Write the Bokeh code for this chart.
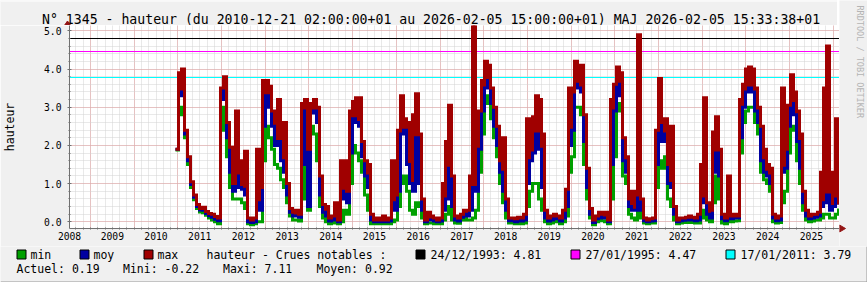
import numpy as np
from bokeh.plotting import figure
from bokeh.layouts import column, row
from bokeh.models import (FixedTicker, CustomJSTickFormatter, PrintfTickFormatter, Range1d)
from bokeh.core.properties import value
from bokeh.embed import file_html
from bokeh.resources import INLINE

# ---------------- data ----------------
start_year = 2010.9455      # first sample (decimal year)
step_years = 0.068665       # sampling interval (~25 days)

h_max = [1.9, 3.9, 4.0, 2.4, 1.7, 1.05, 0.7, 0.45, 0.35, 0.38, 0.27, 0.22, 0.2, 0.14, 0.1,
         3.5, 3.8, 2.6, 1.95, 1.0, 2.9, 1.6, 1.5, 1.85, 0.1, 0.05, 0.1, 1.9, 0.9, 3.7,
         3.7, 3.55, 2.9, 2.6, 3.2, 2.4, 2.6, 1.0, 0.35, 0.25, 0.3, 0.2, 3.1, 3.2,
         1.9, 3.1, 3.2, 3.0, 1.2, 0.45, 0.4, 0.1, 0.15, 0.5, 0.05, 1.6, 1.6, 0.8,
         2.9, 3.15, 3.25, 3.25, 2.1, 1.6, 1.5, 0.2, 0.05, 0.1, 0.05, 0.15, 0.05, 0.1,
         1.6, 0.7, 2.4, 3.3, 2.7, 2.6, 2.5, 2.8, 3.35, 2.3, 0.6, 0.05, 0.25, 0.15, 0.1, 0.05,
         0.1, 1.0, 2.1, 3.05, 1.2, 0.15, 0.1, 0.2, 0.3, 0.3, 1.2, 7.1, 2.05, 2.9,
         3.7, 4.2, 4.1, 3.5, 3.0, 2.5, 1.6, 2.2, 0.6, 0.1, 0.1, 0.08, 0.12, 0.1, 0.2,
         2.7, 2.5, 2.75, 3.3, 3.2, 2.3, 0.3, 0.1, 0.15, 0.2, 0.15, 0.1, 0.3, 0.85, 3.5,
         3.4, 4.2, 4.0, 4.1, 2.8, 1.4, 0.35, 0.05, 0.15, 0.25, 0.2, 0.25, 0.05,
         3.2, 3.6, 4.05, 3.9, 2.2, 1.7, 0.6, 0.8, 0.7, 4.9, 0.6, 0.1, 0.05, 0.08, 0.1,
         2.4, 3.75, 2.6, 2.7, 1.5, 2.5, 0.4, 0.05, 0.1, 0.1, 0.12, 0.15, 0.12, 0.1, 0.2, 1.5,
         3.25, 0.5, 0.3, 2.35, 2.75, 1.9, 0.2, 0.1, 1.2, 0.15, 0.2, 0.15,
         3.2, 3.6, 4.0, 4.05, 4.0, 3.5, 3.0, 2.5, 1.9, 1.5, 1.4, 0.2, 0.1, 0.15,
         3.5, 1.9, 3.05, 3.85, 3.4, 2.9, 2.3, 0.8, 0.3, 0.15, 0.2, 0.2, 0.25,
         1.3, 3.5, 4.6, 1.2, 1.3, 2.7, 0.45]

h_moy = [1.9, 3.4, 3.3, 2.3, 1.6, 0.98, 0.64, 0.4, 0.31, 0.3, 0.22, 0.16, 0.12, 0.07, 0.03,
         3.2, 3.5, 2.2, 1.3, 0.8, 1.2, 0.9, 0.85, 0.7, 0.0, -0.02, 0.0, 0.5, 0.3, 2.5,
         3.3, 3.0, 2.5, 2.0, 2.1, 1.6, 1.3, 0.7, 0.25, 0.15, 0.15, 0.12, 1.5, 2.9,
         0.4, 2.85, 2.9, 2.6, 0.7, 0.25, 0.15, 0.02, 0.05, 0.15, 0.0, 0.6, 0.8, 0.5,
         1.8, 2.7, 2.6, 2.5, 1.7, 1.2, 0.9, 0.05, 0.0, 0.02, 0.0, 0.05, 0.0, 0.02,
         0.5, 0.3, 0.8, 2.3, 2.4, 1.5, 1.0, 0.8, 2.2, 1.0, 0.3, 0.0, 0.05, 0.05, 0.02, 0.0,
         0.02, 0.3, 0.6, 1.4, 0.4, 0.05, 0.02, 0.12, 0.2, 0.15, 0.3, 0.9, 0.8, 1.9,
         2.9, 3.5, 3.7, 3.1, 2.5, 2.0, 1.3, 0.8, 0.3, 0.03, 0.03, 0.0, 0.04, 0.02, 0.05,
         1.0, 1.6, 1.8, 2.3, 1.9, 0.9, 0.1, 0.02, 0.05, 0.1, 0.08, 0.02, 0.1, 0.4, 2.0,
         2.4, 3.6, 3.5, 3.4, 2.1, 0.9, 0.2, -0.02, 0.08, 0.15, 0.1, 0.1, 0.0,
         1.5, 2.9, 3.6, 3.3, 1.6, 1.3, 0.4, 0.3, 0.3, 1.6, 0.3, 0.03, 0.0, 0.02, 0.03,
         1.5, 2.6, 2.1, 2.3, 1.0, 0.9, 0.2, 0.0, 0.03, 0.04, 0.05, 0.08, 0.05, 0.03, 0.05, 0.5,
         0.6, 0.2, 0.1, 1.3, 1.8, 1.2, 0.08, 0.03, 0.3, 0.08, 0.1, 0.1,
         2.2, 3.0, 3.4, 3.5, 3.4, 2.9, 2.6, 1.6, 1.3, 1.2, 1.0, 0.1, 0.03, 0.05,
         1.3, 1.4, 2.5, 3.1, 2.8, 2.1, 1.4, 0.5, 0.15, 0.08, 0.1, 0.12, 0.15,
         0.4, 0.5, 0.7, 0.3, 0.4, 0.6, 0.45]

h_min = [1.88, 3.0, 2.8, 2.2, 1.5, 0.9, 0.58, 0.35, 0.26, 0.24, 0.17, 0.1, 0.05, 0.0, -0.05,
         2.4, 3.0, 1.7, 0.9, 0.6, 0.6, 0.6, 0.5, 0.35, -0.05, -0.08, -0.05, 0.0, 0.0, 1.6,
         2.5, 2.2, 1.9, 1.5, 1.4, 1.1, 0.9, 0.5, 0.15, 0.05, 0.05, 0.02, 0.6, 2.3,
         0.3, 2.5, 2.3, 1.6, 0.4, 0.1, 0.0, -0.05, -0.03, 0.0, -0.05, 0.0, 0.3, 0.2,
         1.0, 2.0, 1.8, 1.6, 1.3, 0.7, 0.3, -0.05, -0.05, -0.04, -0.05, -0.03, -0.05, -0.05,
         0.0, 0.05, 0.4, 1.0, 1.2, 0.8, 0.3, 0.2, 0.5, 0.4, 0.1, -0.05, -0.03, -0.03, -0.05, -0.05,
         -0.05, 0.05, 0.2, 0.4, 0.05, -0.03, -0.04, 0.05, 0.12, 0.05, 0.05, 0.1, 0.3, 1.3,
         2.3, 3.1, 3.3, 2.7, 2.2, 1.7, 1.0, 0.5, 0.1, -0.03, -0.03, -0.05, -0.03, -0.05, -0.03,
         0.4, 0.8, 1.0, 1.0, 0.6, 0.3, 0.0, -0.05, -0.03, 0.02, 0.0, -0.05, 0.0, 0.15, 1.3,
         1.7, 3.0, 3.0, 2.8, 1.5, 0.6, 0.1, -0.08, 0.0, 0.07, 0.03, 0.0, -0.05,
         0.6, 1.7, 3.1, 2.9, 1.2, 1.0, 0.2, 0.1, 0.05, 0.8, 0.1, -0.03, -0.05, -0.03, -0.03,
         0.9, 1.6, 1.4, 1.7, 0.6, 0.4, 0.05, -0.05, -0.03, -0.02, -0.02, 0.0, -0.02, -0.03, -0.03, 0.1,
         0.3, 0.05, 0.0, 0.5, 1.2, 0.6, -0.03, -0.05, 0.05, 0.0, 0.02, 0.03,
         1.8, 2.6, 2.9, 3.0, 3.0, 2.6, 2.3, 1.3, 1.1, 1.0, 0.8, 0.0, -0.03, -0.02,
         0.5, 0.8, 1.8, 2.5, 2.4, 1.6, 1.0, 0.3, 0.05, 0.0, 0.02, 0.05, 0.05,
         0.1, 0.2, 0.2, 0.1, 0.1, 0.2, 0.35]

notable_dates = ["24/12/1993", "27/01/1995", "17/01/2011"]
notable_levels = [4.81, 4.47, 3.79]
notable_colors = ["#000000", "#FF00FF", "#00FFFF"]

series_names = ["min", "moy", "max"]
series_colors = ["#00A000", "#0000A0", "#A00000"]

year_labels = list(range(2008, 2026))
y_ticks = [0, 1, 2, 3, 4, 5]

stat_names = ["Actuel", "Mini", "Maxi", "Moyen"]
stat_values = ["0.19", "-0.22", "7.11", "0.92"]

title = ("N\u00b0 1345 - hauteur (du 2010-12-21 02:00:00+01 au 2026-02-05 15:00:00+01) "
         "MAJ 2026-02-05 15:33:38+01")

# ---------------- styling constants ----------------
FONT = "DejaVu Sans Mono"
BG = "#F0F0F0"
ARROW = "#931515"
X0, X1 = 2008.5193, 2026.1433
Y0, Y1 = -0.175, 5.139


def pixel_fig(w, h):
    """Figure whose frame covers the whole canvas, 1 unit = 1 px, y downward."""
    f = figure(width=w, height=h, output_backend="svg", toolbar_location=None,
               x_range=Range1d(0, w), y_range=Range1d(h, 0),
               x_axis_location=None, y_axis_location=None,
               min_border=0, min_border_left=0, min_border_right=0,
               min_border_top=0, min_border_bottom=0,
               background_fill_color=BG, border_fill_color=BG, outline_line_color=None)
    f.grid.visible = False
    return f


def txt(f, x, y, s, size="11.5px", color="black", **kw):
    f.text(x=[x], y=[y], text=[s], text_font=value(FONT), text_font_size=value(size),
           text_color=color, text_baseline="middle", **kw)


# ---------------- main chart ----------------
p = figure(frame_width=770, frame_height=203, output_backend="svg", toolbar_location=None,
           x_range=Range1d(X0, X1), y_range=Range1d(Y0, Y1),
           min_border_left=67, min_border_right=0, min_border_top=0, min_border_bottom=18,
           background_fill_color="white", border_fill_color=BG, outline_line_color=None)

x_minor = [y + k / 6 for y in range(2008, 2027) for k in range(6)]
y_minor = [round(k * 0.2, 1) for k in range(0, 26)]
p.xaxis.ticker = FixedTicker(ticks=[max(y + 0.5, X0 + 0.001) for y in year_labels],
                             minor_ticks=x_minor)
p.xaxis.formatter = CustomJSTickFormatter(code="return Math.floor(tick).toString();")
p.yaxis.ticker = FixedTicker(ticks=y_ticks, minor_ticks=y_minor)
p.yaxis.formatter = PrintfTickFormatter(format="%.1f")
for ax in (p.xaxis[0], p.yaxis[0]):
    ax.axis_line_color = "#707070"
    ax.major_label_text_font = FONT
    ax.major_label_text_font_size = "9.7px"
    ax.major_label_text_color = "black"
    ax.minor_tick_line_color = "#707070"
    ax.minor_tick_in = 1
    ax.minor_tick_out = 1
    ax.major_tick_line_color = "#707070"
p.xaxis.major_tick_line_color = None
p.xaxis.major_tick_out = 0
p.xaxis.major_label_standoff = 2
p.yaxis.major_tick_in = 2
p.yaxis.major_tick_out = 2
p.yaxis.major_label_standoff = 6
p.yaxis.axis_label = "hauteur"
p.yaxis.axis_label_text_font = FONT
p.yaxis.axis_label_text_font_size = "11.5px"
p.yaxis.axis_label_text_font_style = "normal"
p.yaxis.axis_label_text_color = "black"
p.yaxis.axis_label_standoff = 24

p.xgrid.ticker = FixedTicker(ticks=list(range(2009, 2027)), minor_ticks=x_minor)
p.ygrid.ticker = FixedTicker(ticks=y_ticks, minor_ticks=y_minor)
for g in (p.xgrid[0], p.ygrid[0]):
    g.grid_line_color = "#E39A9A"
    g.grid_line_dash = "1 1"
    g.grid_line_width = 1
    g.minor_grid_line_color = "#D2D2D2"
    g.minor_grid_line_dash = "1 1"

# notable flood levels
for lv, col in zip(notable_levels, notable_colors):
    p.hspan(y=lv, line_color=col, line_width=1)

# series: min line, the band swept by the daily max above the mean, mean line, max line
x = start_year + step_years * np.arange(len(h_max))
p.step(x, h_min, mode="after", line_color=series_colors[0], line_width=3, line_join="miter")
p.varea_step(x=x, y1=h_moy, y2=h_max, step_mode="after", fill_color=series_colors[2])
p.step(x, h_moy, mode="after", line_color=series_colors[1], line_width=3, line_join="miter")
p.step(x, h_max, mode="after", line_color=series_colors[2], line_width=3, line_join="miter")

# ---------------- title strip ----------------
t = pixel_fig(837, 25)
t.line(x=[0, 837], y=[0.5, 0.5], line_color="#FFFFFF", line_width=1)
txt(t, 41.5, 18.5, title, size="13.2px")
t.patch(x=[63.5, 67, 70.5], y=[25.5, 20.5, 25.5], fill_color=ARROW, line_color=ARROW)

# ---------------- right strip ----------------
s = pixel_fig(30, 246)
txt(s, 20.5, 5, "RRDTOOL / TOBI OETIKER", size="8.5px", color="#B4B4B4",
    angle=-np.pi / 2, text_align="left")
s.patch(x=[0, 6, 0], y=[224.5, 228, 231.5], fill_color=ARROW, line_color=ARROW)
s.line(x=[29.5, 29.5], y=[0, 246], line_color="#999999", line_width=1)

# ---------------- legend strip ----------------
lg = pixel_fig(867, 36)
box_x = [16, 79, 143]
for bx, col, name in zip(box_x, series_colors, series_names):
    lg.quad(left=bx + 0.5, right=bx + 9.5, top=3.5, bottom=12.5, fill_color=col, line_color="black")
    txt(lg, bx + 14, 8, name)
txt(lg, 206, 8, "hauteur - Crues notables :")
for bx, col, d, lv in zip([415, 570, 725], notable_colors, notable_dates, notable_levels):
    lg.quad(left=bx + 0.5, right=bx + 9.5, top=3.5, bottom=12.5, fill_color=col, line_color="black")
    txt(lg, bx + 15, 8, f"{d}: {lv:.2f}")
for px, n, v in zip([16, 122.5, 222.5, 316], stat_names, stat_values):
    txt(lg, px, 22.5, f"{n}: {v}")
lg.line(x=[0, 867], y=[35.5, 35.5], line_color="#999999", line_width=1)
lg.line(x=[866.5, 866.5], y=[0, 36], line_color="#999999", line_width=1)

# wrap strips so their frames are not aligned with the chart's frame
left = column(row(t, spacing=0), row(p, spacing=0), spacing=0)
layout = column(row(left, s, spacing=0), row(lg, spacing=0), spacing=0)

open("out.html", "w").write(file_html(layout, INLINE))
